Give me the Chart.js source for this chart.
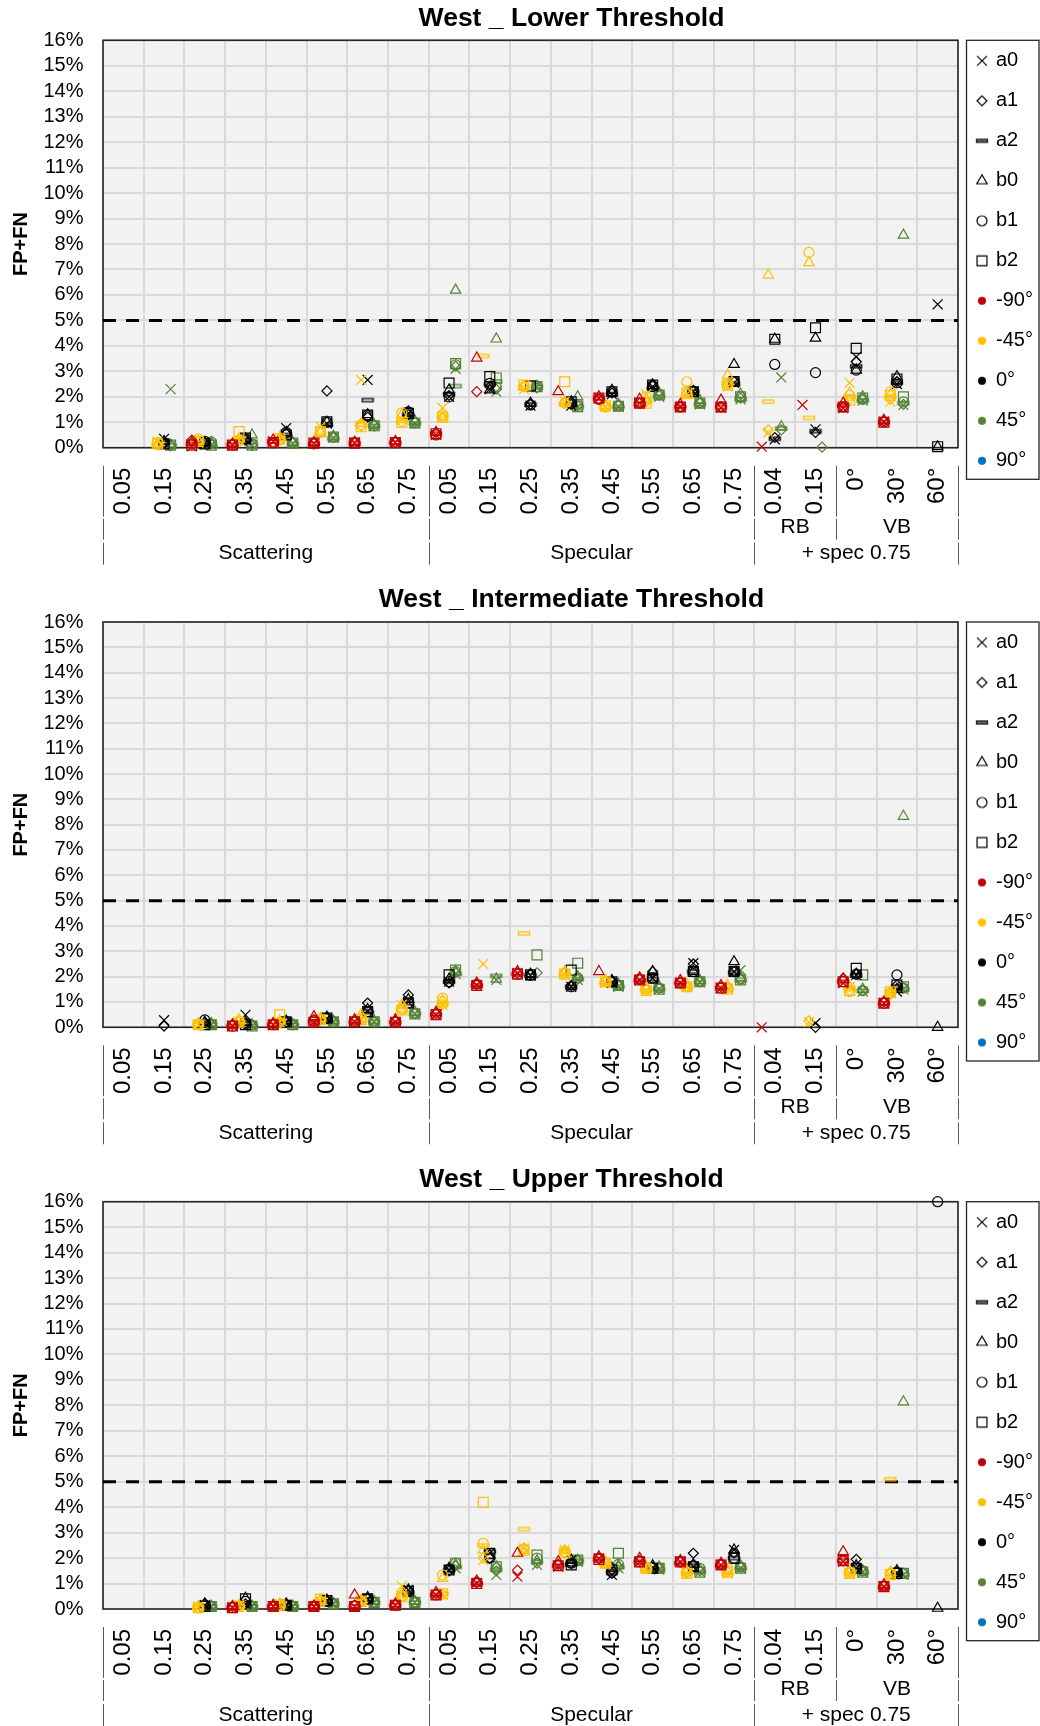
<!DOCTYPE html>
<html>
<head>
<meta charset="utf-8">
<script src="https://cdn.jsdelivr.net/npm/chart.js@4.4.1/dist/chart.umd.min.js"></script>
<style>
  body { margin: 0; background: #fff; }
  canvas { display: block; }
</style>
</head>
<body>
<canvas id="panel0" width="1040" height="581"></canvas>
<canvas id="panel1" width="1040" height="580"></canvas>
<canvas id="panel2" width="1040" height="565"></canvas>
<script>
const N = null;

// category axis (3 levels)
const categories = ['0.05','0.15','0.25','0.35','0.45','0.55','0.65','0.75',
                    '0.05','0.15','0.25','0.35','0.45','0.55','0.65','0.75',
                    '0.04','0.15','0°','30°','60°'];
const subGroupLabels = ['', '', 'RB', 'VB'];
const subGroupSpans = [8, 8, 2, 3];
const groupLabels = ['Scattering', 'Specular', '+ spec 0.75'];
const groupSpans = [8, 8, 5];
const yTicks = [0, 0.01, 0.02, 0.03, 0.04, 0.05, 0.06, 0.07, 0.08, 0.09, 0.10, 0.11, 0.12, 0.13, 0.14, 0.15, 0.16];
const threshold = 0.05;

const shapeNames = ['a0', 'a1', 'a2', 'b0', 'b1', 'b2'];
const colorNames = ['-90°', '-45°', '0°', '45°', '90°'];
const colorValues = ['#C00000', '#FFC000', '#000000', '#548235', '#0070C0'];

// FP+FN in %, rows = a0, a1, a2, b0, b1, b2 ; columns = categories
const lowerRed = [
  [N,N,0.05,0.1,0.25,0.18,0.2,0.2,0.5,N,N,N,1.95,1.75,1.6,1.56,0.04,1.68,1.55,1.02,N],
  [N,N,0.3,0.15,0.2,0.2,0.2,0.22,0.6,2.2,N,N,1.9,1.75,1.6,1.6,N,N,1.6,1.05,N],
  [N,N,0.15,0.12,0.25,0.15,0.18,0.2,0.55,N,N,N,1.95,1.7,1.6,1.6,N,N,1.65,1.0,N],
  [N,N,0.2,0.15,0.3,0.2,0.22,0.25,0.6,3.52,N,2.2,2.0,1.9,1.7,1.87,N,N,1.75,1.08,N],
  [N,N,0.15,0.1,0.2,0.15,0.2,0.2,0.5,N,N,N,1.9,1.75,1.6,1.6,N,N,1.6,1.02,N],
  [N,N,0.1,0.1,0.2,0.18,0.18,0.2,0.55,N,N,N,1.95,1.75,1.6,1.6,N,N,1.6,1.0,N]
];
const lowerYellow = [
  [N,0.25,0.2,0.3,0.3,0.83,2.66,1.1,1.56,N,2.3,1.8,1.6,2.1,2.1,2.4,0.6,N,2.55,1.81,N],
  [N,0.1,0.25,0.25,0.3,0.6,0.85,1.0,1.2,N,2.4,1.75,1.6,1.8,2.15,2.45,0.7,N,1.9,1.9,N],
  [N,0.15,0.2,0.3,0.35,0.5,0.9,1.05,1.25,3.6,2.35,1.7,1.6,1.8,2.0,2.5,1.81,1.17,2.0,2.0,N],
  [N,0.15,0.25,0.35,0.4,0.6,0.95,1.3,1.16,N,2.4,1.8,1.65,1.9,2.2,2.85,6.78,7.27,2.15,2.1,N],
  [N,0.2,0.35,0.3,0.3,0.65,0.9,1.36,1.3,N,2.4,1.75,1.6,2.0,2.59,2.5,N,7.67,2.05,2.2,N],
  [N,0.15,0.25,0.63,0.35,0.63,0.82,1.0,1.2,N,2.46,2.59,1.65,1.75,2.15,2.46,N,N,1.87,2.05,N]
];
const lowerBlack = [
  [N,0.35,0.15,0.3,0.77,0.95,2.66,1.35,2.0,2.3,1.65,1.65,2.1,2.4,2.2,2.55,0.33,0.72,3.57,2.5,5.63],
  [N,0.2,0.2,0.3,0.55,2.23,1.2,1.3,2.05,2.4,1.7,1.7,2.15,2.5,2.25,2.6,0.4,0.6,3.38,2.6,N],
  [N,0.2,0.2,0.3,0.5,0.9,1.87,1.3,2.1,2.5,1.7,1.7,2.1,2.35,2.2,2.5,0.35,0.65,3.2,2.55,N],
  [N,0.25,0.2,0.35,0.6,1.0,1.3,1.4,2.27,2.27,1.75,1.8,2.25,2.45,2.2,3.27,4.26,4.3,3.05,2.79,0.04],
  [N,0.2,0.25,0.35,0.6,1.0,1.28,1.41,2.0,2.53,1.68,1.75,2.2,2.4,2.2,2.6,3.27,2.95,3.05,2.55,N],
  [N,0.15,0.15,0.38,0.5,1.02,1.28,1.35,2.54,2.79,2.43,1.8,2.2,2.46,2.2,2.6,4.26,4.71,3.9,2.7,0.04]
];
const lowerGreen = [
  [N,2.3,0.1,0.1,0.15,0.4,0.85,0.95,3.1,2.2,2.4,1.6,1.6,2.0,1.7,1.9,2.76,N,1.85,1.68,N],
  [N,0.07,0.15,0.1,0.2,0.4,0.9,1.0,3.2,2.3,2.35,1.65,1.65,2.05,1.75,1.95,0.7,0.02,1.9,1.7,N],
  [N,0.1,0.1,0.1,0.15,0.35,0.85,0.95,2.42,2.6,2.4,1.6,1.6,2.0,1.7,1.9,0.76,N,1.85,1.75,N],
  [N,0.1,0.2,0.5,0.2,0.45,0.9,1.05,6.19,4.27,2.42,2.0,1.7,2.15,1.85,2.1,0.82,N,2.0,8.35,N],
  [N,0.1,0.23,0.15,0.18,0.42,0.86,0.97,3.25,2.38,2.4,1.7,1.65,2.1,1.75,2.0,N,N,1.9,1.8,N],
  [N,0.1,0.1,0.1,0.18,0.42,0.86,0.97,3.3,2.74,2.4,1.61,1.63,2.07,1.75,2.0,N,N,1.95,2.0,N]
];

const interRed = [
  [N,N,N,0.05,0.1,0.2,0.22,0.2,0.49,1.67,2.15,N,N,1.87,1.74,1.54,0.0,N,1.74,0.95,N],
  [N,N,N,0.1,0.12,0.3,0.25,0.25,0.55,1.7,2.15,N,N,1.9,1.78,1.6,N,N,1.94,1.0,N],
  [N,N,N,0.05,0.1,0.2,0.2,0.2,0.5,1.65,2.1,N,N,1.85,1.75,1.55,N,N,1.8,0.95,N],
  [N,N,N,0.1,0.15,0.42,0.3,0.3,0.6,1.75,2.2,N,2.2,1.95,1.85,1.65,N,N,1.9,1.0,N],
  [N,N,N,0.05,0.1,0.25,0.22,0.22,0.5,1.7,2.1,N,N,1.9,1.75,1.55,N,N,1.8,0.95,N],
  [N,N,N,0.05,0.1,0.2,0.22,0.2,0.5,1.65,2.1,N,N,1.87,1.75,1.55,N,N,1.8,0.95,N]
];
const interYellow = [
  [N,N,0.09,0.2,0.2,0.3,0.3,0.88,0.88,2.5,N,2.1,1.75,1.45,1.6,1.54,N,0.2,1.6,1.34,N],
  [N,N,0.1,0.22,0.2,0.3,0.3,0.7,0.9,N,N,2.15,1.8,1.5,1.6,1.6,N,0.25,1.45,1.3,N],
  [N,N,0.12,0.2,0.2,0.3,0.3,0.68,0.95,N,3.71,2.1,1.75,1.45,1.55,1.5,N,N,1.5,1.4,N],
  [N,N,0.15,0.3,0.25,0.35,0.49,0.88,1.05,N,N,2.2,1.85,1.6,1.7,1.65,N,N,1.6,1.4,N],
  [N,N,0.12,0.22,0.2,0.3,0.35,0.7,1.15,N,N,2.15,1.8,1.5,1.6,1.55,N,N,1.41,1.35,N],
  [N,N,0.1,0.2,0.49,0.3,0.3,0.68,1.0,N,N,2.1,1.8,1.45,1.6,1.5,N,N,1.45,1.4,N]
];
const interBlack = [
  [N,0.28,0.15,0.49,0.2,0.35,0.65,1.0,1.8,N,2.05,1.6,1.75,1.94,2.53,2.2,N,0.16,2.07,1.41,N],
  [N,0.05,0.2,0.15,0.2,0.35,0.96,1.28,1.75,N,2.1,1.65,1.8,2.2,2.5,2.2,N,0.0,2.1,1.67,N],
  [N,N,0.15,0.15,0.2,0.3,0.6,0.95,1.8,N,2.05,1.6,1.75,1.9,2.2,2.15,N,N,2.05,1.6,N],
  [N,N,0.2,0.2,0.25,0.4,0.7,1.1,1.9,N,2.1,1.6,1.85,2.2,2.2,2.59,N,N,2.1,1.5,0.0],
  [N,N,0.29,0.15,0.22,0.37,0.62,0.96,1.8,N,2.05,1.6,1.8,1.95,2.2,2.2,N,N,2.1,2.07,N],
  [N,N,0.1,0.1,0.22,0.37,0.62,0.96,2.07,N,2.07,2.26,1.8,1.94,2.2,2.2,N,N,2.33,1.67,N]
];
const interGreen = [
  [N,N,0.1,0.05,0.1,0.22,0.22,0.53,2.1,1.87,N,1.87,1.6,1.5,1.78,2.26,N,N,1.41,1.5,N],
  [N,N,0.1,0.08,0.1,0.22,0.22,0.55,2.15,N,2.15,1.9,1.65,1.55,1.8,1.9,N,N,1.45,1.55,N],
  [N,N,0.12,0.05,0.1,0.2,0.22,0.53,2.1,2.03,N,1.9,1.6,1.5,1.78,1.87,N,N,1.45,1.5,N],
  [N,N,0.15,0.1,0.12,0.25,0.25,0.6,2.2,1.9,N,2.0,1.7,1.6,1.85,1.95,N,N,1.5,8.33,N],
  [N,N,0.12,0.08,0.1,0.22,0.22,0.55,2.2,N,N,1.95,1.65,1.55,1.8,1.9,N,N,1.45,1.55,N],
  [N,N,0.1,0.05,0.1,0.22,0.22,0.53,2.26,N,2.86,2.53,1.65,1.5,1.8,1.87,N,N,2.07,1.6,N]
];

const upperRed = [
  [N,N,N,0.05,0.1,0.1,0.1,0.15,0.55,1.03,1.27,1.66,1.99,1.85,1.86,1.73,N,N,1.86,0.88,N],
  [N,N,N,0.1,0.1,0.1,0.15,0.15,0.6,1.05,1.53,1.75,2.0,1.9,1.85,1.75,N,N,1.9,0.9,N],
  [N,N,N,0.05,0.1,0.1,0.1,0.15,0.55,1.0,N,1.7,1.95,1.85,1.8,1.7,N,N,1.9,0.85,N],
  [N,N,N,0.1,0.15,0.12,0.55,0.2,0.65,1.1,2.19,1.86,2.05,1.99,1.9,1.8,N,N,2.25,0.95,N],
  [N,N,N,0.05,0.1,0.1,0.12,0.15,0.55,1.05,N,1.7,2.0,1.85,1.85,1.75,N,N,1.9,0.9,N],
  [N,N,N,0.05,0.1,0.1,0.1,0.15,0.55,1.0,N,1.7,1.95,1.85,1.85,1.73,N,N,1.9,0.88,N]
];
const upperYellow = [
  [N,N,0.09,0.16,0.2,0.3,0.33,0.9,0.55,1.92,2.38,2.32,1.8,1.6,1.4,1.4,N,N,1.4,1.34,N],
  [N,N,0.05,0.1,0.15,0.3,0.3,0.5,0.6,2.0,2.4,2.2,1.8,1.6,1.45,1.45,N,N,1.45,1.4,N],
  [N,N,0.05,0.1,0.15,0.3,0.3,0.5,0.6,2.5,3.14,2.25,1.75,1.55,1.4,1.4,N,N,1.4,5.1,N],
  [N,N,0.1,0.15,0.2,0.35,0.35,0.6,1.2,2.32,2.3,2.3,1.85,1.65,1.5,1.5,N,N,1.5,1.45,N],
  [N,N,0.05,0.12,0.15,0.3,0.3,0.5,1.34,2.58,2.35,2.25,1.8,1.6,1.45,1.6,N,N,1.45,1.4,N],
  [N,N,0.05,0.1,0.15,0.38,0.3,0.48,0.6,4.19,2.3,2.2,1.8,1.6,1.4,1.45,N,N,1.4,1.35,N]
];
const upperBlack = [
  [N,N,0.15,0.2,0.16,0.33,0.4,0.75,1.53,2.19,N,1.92,1.34,1.6,1.66,2.32,N,N,1.6,1.4,N],
  [N,N,0.22,0.2,0.15,0.3,0.4,0.7,1.5,2.0,N,1.8,1.4,1.65,2.19,2.2,N,N,1.95,1.45,N],
  [N,N,0.1,0.15,0.15,0.3,0.38,0.65,1.5,2.25,N,1.75,1.45,1.6,1.7,2.0,N,N,1.65,1.4,N],
  [N,N,0.2,0.42,0.2,0.35,0.45,0.75,1.6,2.1,N,1.92,1.6,1.7,1.75,2.32,N,N,1.7,1.5,0.03],
  [N,N,0.15,0.3,0.16,0.3,0.4,0.7,1.55,2.0,N,1.8,1.45,1.6,1.7,2.0,N,N,1.65,1.45,16.0],
  [N,N,0.1,0.4,0.15,0.33,0.4,0.7,1.53,2.19,N,1.73,1.53,1.6,1.66,1.99,N,N,1.6,1.4,N]
];
const upperGreen = [
  [N,N,0.1,0.1,0.1,0.2,0.26,0.26,1.6,1.34,1.73,1.85,1.6,1.55,1.45,1.6,N,N,1.45,1.34,N],
  [N,N,0.1,0.1,0.1,0.2,0.26,0.26,1.7,1.5,1.8,1.9,1.66,1.6,1.5,1.65,N,N,1.5,1.4,N],
  [N,N,0.1,0.1,0.1,0.2,0.26,0.26,1.65,1.55,1.85,1.9,1.65,1.55,1.45,1.6,N,N,1.45,1.35,N],
  [N,N,0.12,0.12,0.12,0.22,0.3,0.3,1.75,1.66,1.9,1.92,1.7,1.65,1.55,1.7,N,N,1.5,8.14,N],
  [N,N,0.1,0.1,0.1,0.2,0.26,0.26,1.8,1.6,2.0,1.9,1.75,1.6,1.6,1.65,N,N,1.5,1.4,N],
  [N,N,0.1,0.1,0.1,0.2,0.26,0.26,1.8,1.66,2.12,1.92,2.19,1.6,1.45,1.6,N,N,1.45,1.4,N]
];

Chart.defaults.font.family = '"Liberation Sans", Arial, Helvetica, sans-serif';
Chart.defaults.color = '#000';

// horizontal shift of each colour inside a category
const colorOffsets = [-0.32, -0.16, 0, 0.16];
const shapeStyles = [
  { style: 'crossRot', radius: 7 },
  { style: 'rectRot', radius: 5 },
  { style: 'dash', radius: 5 },
  { style: 'triangle', radius: 6 },
  { style: 'circle', radius: 5 },
  { style: 'rect', radius: 7 }
];

function dashMarker(stroke, fill) {
  const c = document.createElement('canvas');
  c.width = 14; c.height = 7;
  const ctx = c.getContext('2d');
  ctx.lineWidth = 1.3;
  ctx.strokeStyle = stroke;
  if (fill) { ctx.fillStyle = fill; ctx.fillRect(1.5, 2, 11, 3); }
  ctx.strokeRect(1.5, 2, 11, 3);
  return c;
}
function dotMarker(color) {
  const c = document.createElement('canvas');
  c.width = 10; c.height = 10;
  const ctx = c.getContext('2d');
  ctx.fillStyle = color;
  ctx.beginPath(); ctx.arc(5, 5, 4, 0, Math.PI * 2); ctx.fill();
  return c;
}
function shapeMarker(style, radius) {
  const s = Math.ceil(radius * 2 + 4);
  const c = document.createElement('canvas');
  c.width = s; c.height = s;
  const ctx = c.getContext('2d');
  ctx.strokeStyle = '#000'; ctx.fillStyle = 'rgba(0,0,0,0)'; ctx.lineWidth = 1.2;
  if (Chart.helpers && Chart.helpers.drawPoint) {
    Chart.helpers.drawPoint(ctx, { pointStyle: style, radius: radius, rotation: 0, borderWidth: 1.2 }, s / 2, s / 2);
  }
  return c;
}

const dashMarkers = colorValues.map(c => dashMarker(c));

const legendItems = shapeNames.map((name, s) => ({
  text: name, fontColor: '#000', hidden: false, lineWidth: 1.2,
  fillStyle: 'rgba(0,0,0,0)', strokeStyle: '#000',
  pointStyle: s === 2 ? dashMarker('#222', '#666') : shapeMarker(shapeStyles[s].style, shapeStyles[s].radius)
})).concat(colorNames.map((name, c) => ({
  text: name, fontColor: '#000', hidden: false, lineWidth: 0,
  fillStyle: colorValues[c], strokeStyle: colorValues[c], pointStyle: dotMarker(colorValues[c])
})));

const LEGEND_W = 82;

const legendFit = {
  id: 'legendFit',
  beforeLayout(chart) {
    const lg = chart.legend;
    if (lg && !lg._fitPatched) {
      const orig = lg.fit.bind(lg);
      lg.fit = function () { orig(); this.width = LEGEND_W; };
      lg._fitPatched = true;
    }
  }
};

const plotFrame = {
  id: 'plotFrame',
  beforeDraw(chart) {
    const { ctx, chartArea: a } = chart;
    ctx.save();
    ctx.fillStyle = '#fff';
    ctx.fillRect(0, 0, chart.width, chart.height);
    ctx.fillStyle = '#F2F2F2';
    ctx.fillRect(a.left, a.top, a.right - a.left, a.bottom - a.top);
    ctx.restore();
  },
  beforeDatasetsDraw(chart) {
    const { ctx, chartArea: a } = chart;
    ctx.save();
    ctx.strokeStyle = '#262626';
    ctx.lineWidth = 1.6;
    ctx.strokeRect(a.left, a.top, a.right - a.left, a.bottom - a.top);
    ctx.restore();
  }
};

const axisGroups = {
  id: 'axisGroups',
  afterDraw(chart, args, opts) {
    const { ctx, chartArea: a, scales: { x } } = chart;
    const b = a.bottom;
    ctx.save();
    // title
    ctx.fillStyle = '#000';
    ctx.font = 'bold 26.5px "Liberation Sans", Arial, sans-serif';
    ctx.textAlign = 'center';
    ctx.textBaseline = 'middle';
    ctx.fillText(opts.title, (a.left + chart.width) / 2, 19);

    // separators of the multi-level category axis
    const bounds = spans => { let k = 0; const out = [0]; spans.forEach(s => { k += s; out.push(k); }); return out; };
    const subB = bounds(subGroupSpans);
    const grpB = bounds(groupSpans);
    ctx.strokeStyle = '#595959';
    ctx.lineWidth = 1;
    const vline = (k, y1, y2) => {
      const px = Math.round(x.getPixelForValue(k)) + 0.5;
      ctx.beginPath(); ctx.moveTo(px, y1); ctx.lineTo(px, y2); ctx.stroke();
    };
    subB.forEach(k => { vline(k, b + 18, b + 69); vline(k, b + 71, b + 92); });
    grpB.forEach(k => vline(k, b + 95, b + 117));

    ctx.font = '21px "Liberation Sans", Arial, sans-serif';
    subGroupLabels.forEach((t, i) => {
      if (t) ctx.fillText(t, x.getPixelForValue((subB[i] + subB[i + 1]) / 2), b + 80);
    });
    groupLabels.forEach((t, i) => {
      ctx.fillText(t, x.getPixelForValue((grpB[i] + grpB[i + 1]) / 2), b + 106);
    });

    // legend frame
    const lg = chart.legend;
    if (lg) {
      ctx.strokeStyle = '#262626';
      ctx.lineWidth = 1.3;
      ctx.strokeRect(lg.left + 8.5, lg.top + 9.5, chart.width - lg.left - 9.5, 439);
    }
    ctx.restore();
  }
};

function buildPanel(canvasId, cfg) {
  const datasets = [{
    type: 'line',
    data: [{ x: 0, y: threshold }, { x: categories.length, y: threshold }],
    borderColor: '#000', borderWidth: 3, borderDash: [13, 10],
    pointRadius: 0, order: 1, xAxisID: 'x', yAxisID: 'y', clip: false
  }];
  cfg.series.forEach((rows, c) => {
    rows.forEach((values, s) => {
      const pts = [];
      values.forEach((v, i) => { if (v !== null) pts.push({ x: i + 0.5 + colorOffsets[c], y: v / 100 }); });
      datasets.push({
        type: 'scatter',
        label: shapeNames[s] + ' ' + colorNames[c],
        data: pts,
        xAxisID: 'x', yAxisID: 'y', order: 0, clip: false,
        pointStyle: s === 2 ? dashMarkers[c] : shapeStyles[s].style,
        pointRadius: shapeStyles[s].radius,
        borderColor: colorValues[c],
        backgroundColor: 'rgba(0,0,0,0)',
        pointBorderWidth: 1.2
      });
    });
  });

  return new Chart(document.getElementById(canvasId), {
    type: 'scatter',
    data: { datasets },
    plugins: [legendFit, plotFrame, axisGroups],
    options: {
      responsive: false,
      animation: false,
      events: [],
      layout: { padding: { top: cfg.plotTop - 9.5, left: 0, right: 0, bottom: 0 } },
      scales: {
        x: {
          type: 'linear', position: 'bottom', min: 0, max: categories.length,
          afterBuildTicks: s => { s.ticks = categories.map((_, i) => ({ value: i })).concat([{ value: categories.length }]); },
          afterFit: s => { s.height = 0; },
          ticks: { display: false, autoSkip: false },
          grid: { color: '#D9D9D9', lineWidth: 2, drawTicks: false },
          border: { display: false }
        },
        xl: {
          type: 'category', position: 'bottom', labels: categories, offset: true,
          afterFit: s => { s.height = cfg.height - cfg.plotBottom; },
          grid: { display: false, drawTicks: false },
          border: { display: false },
          ticks: { autoSkip: false, minRotation: 90, maxRotation: 90, padding: 20, color: '#000', font: { size: 24 } }
        },
        xt: {
          type: 'linear', position: 'top',
          afterFit: s => { s.height = 9.5; },
          ticks: { display: false },
          grid: { display: false, drawTicks: false },
          border: { display: false }
        },
        y: {
          type: 'linear', min: 0, max: 0.16,
          afterBuildTicks: s => { s.ticks = yTicks.map(v => ({ value: v })); },
          afterFit: s => { s.width = 103; },
          ticks: { autoSkip: false, padding: 19.5, color: '#000', font: { size: 20 }, callback: v => Math.round(v * 100) + '%' },
          grid: { color: '#D9D9D9', lineWidth: 2, drawTicks: false },
          border: { display: false },
          title: { display: true, text: 'FP+FN', color: '#000', font: { size: 20, weight: 'bold' }, padding: { top: 9, bottom: 0 } }
        }
      },
      plugins: {
        title: { display: false },
        tooltip: { enabled: false },
        axisGroups: { title: cfg.title },
        legend: {
          display: true, position: 'right', align: 'start', onClick: () => {},
          labels: {
            usePointStyle: true, boxWidth: 8, boxHeight: 8, padding: 20,
            color: '#000', font: { size: 20 },
            generateLabels: () => legendItems
          }
        }
      }
    }
  });
}

buildPanel('panel0', { title: 'West _ Lower Threshold', series: [lowerRed, lowerYellow, lowerBlack, lowerGreen], height: 581, plotTop: 40.3, plotBottom: 447.7 });
buildPanel('panel1', { title: 'West _ Intermediate Threshold', series: [interRed, interYellow, interBlack, interGreen], height: 580, plotTop: 41, plotBottom: 446.3 });
buildPanel('panel2', { title: 'West _ Upper Threshold', series: [upperRed, upperYellow, upperBlack, upperGreen], height: 565, plotTop: 40.7, plotBottom: 448 });
</script>
</body>
</html>
